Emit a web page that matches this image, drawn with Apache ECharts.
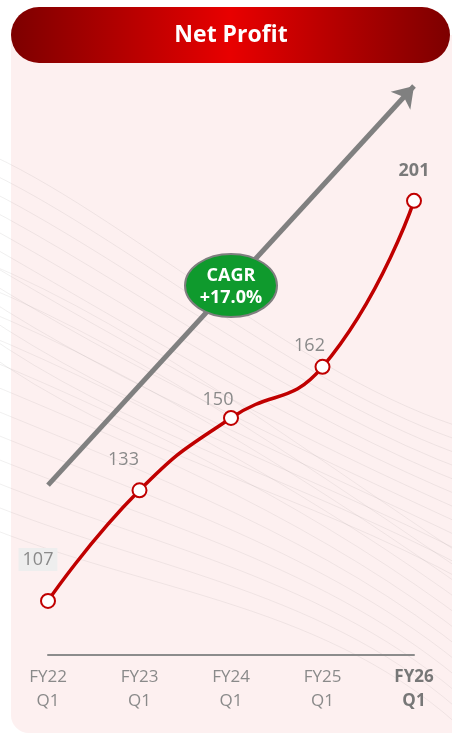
<!DOCTYPE html>
<html>
<head>
<meta charset="utf-8">
<script src="https://cdn.jsdelivr.net/npm/echarts@6/dist/echarts.min.js"></script>
<style>
    html, body { margin: 0; padding: 0; background: #ffffff; }
    #chart { width: 452px; height: 736px; }
</style>
</head>
<body>
<div id="chart"></div>
<script>
var periods = ["FY22\nQ1", "FY23\nQ1", "FY24\nQ1", "FY25\nQ1", "FY26\nQ1"];
var netProfit = [107, 133, 150, 162, 201];
var trendStart = 134.2;   // 趋势箭头起点 (值)
var trendEnd = 228;       // 趋势箭头终点 (值)
var cagrText = "CAGR\n+17.0%";
var titleText = "Net Profit";

var FONT = "'Open Sans', sans-serif";

// 标签偏移
var labelOffsets = [[-10, -17], [-16, -8], [-13, 4], [-13, 1], [0, -8]];

// 背景装饰线
function decoLines() {
    var list = [];
    for (var i = 0; i < 12; i++) {
        var y0 = 150 + i * 18;
        list.push({
            id: 'decoA' + i,
            type: 'bezierCurve',
            silent: true,
            z: 1,
            shape: {
                x1: -20, y1: y0,
                cpx1: 120, cpy1: y0 + 60 + i * 4,
                cpx2: 300, cpy2: 380 + i * 10,
                x2: 470, y2: 430 + i * 14
            },
            style: { stroke: 'rgba(150,140,140,0.14)', lineWidth: 1, fill: 'none' }
        });
    }
    for (var j = 0; j < 12; j++) {
        var y1 = 260 + j * 24;
        list.push({
            id: 'decoB' + j,
            type: 'bezierCurve',
            silent: true,
            z: 1,
            shape: {
                x1: -20, y1: y1,
                cpx1: 150, cpy1: y1 + 70,
                cpx2: 330, cpy2: 470 + j * 12,
                x2: 470, y2: 560 + j * 16
            },
            style: { stroke: 'rgba(150,140,140,0.13)', lineWidth: 1, fill: 'none' }
        });
    }
    return list;
}

var myChart = echarts.init(document.getElementById('chart'));

var seriesData = netProfit.map(function (v, i) {
    var last = i === netProfit.length - 1;
    var item = {
        value: v,
        label: {
            offset: labelOffsets[i],
            fontWeight: last ? 'bold' : 'normal',
            color: last ? '#7a7a7a' : '#8a8a8a'
        }
    };
    if (i === 0) {
        item.label.backgroundColor = '#eeeeee';
        item.label.padding = [3, 4, 2, 4];
    }
    return item;
});

var option = {
    animation: false,
    backgroundColor: '#ffffff',
    grid: { left: 48, right: 38, top: 80, bottom: 81 },
    xAxis: {
        type: 'category',
        data: periods,
        boundaryGap: false,
        axisTick: { show: false },
        axisLine: { lineStyle: { color: '#8c8c8c', width: 2 } },
        axisLabel: {
            margin: 10,
            fontFamily: FONT,
            fontSize: 17,
            lineHeight: 24,
            color: '#8a8a8a',
            formatter: function (val, idx) {
                return idx === periods.length - 1 ? '{b|' + val.replace('\n', '}\n{b|') + '}' : val;
            },
            rich: {
                b: { fontFamily: FONT, fontSize: 17, lineHeight: 24, fontWeight: 'bold', color: '#777777' }
            }
        }
    },
    yAxis: {
        type: 'value',
        min: 94.3,
        max: 229.4,
        show: false,
        splitLine: { show: false }
    },
    series: [{
        type: 'line',
        data: seriesData,
        smooth: 0.5,
        z: 5,
        symbol: 'circle',
        symbolSize: 14,
        lineStyle: { color: '#c00000', width: 3.5 },
        itemStyle: { color: '#ffffff', borderColor: '#c00000', borderWidth: 2 },
        label: {
            show: true,
            position: 'top',
            fontFamily: FONT,
            fontSize: 18
        },
        markLine: {
            silent: true,
            z: 3,
            symbol: ['none', 'arrow'],
            symbolSize: [20, 20],
            label: { show: false },
            lineStyle: { color: '#808080', width: 5, type: 'solid' },
            data: [[{ coord: [0, trendStart] }, { coord: [4, trendEnd] }]]
        }
    }],
    graphic: [{
        id: 'panel',
        type: 'rect',
        silent: true,
        z: -10,
        shape: { x: 11, y: 35, width: 460, height: 698, r: [0, 0, 18, 18] },
        style: { fill: '#fdf0f0' }
    }].concat(decoLines()).concat([{
        id: 'header',
        type: 'rect',
        silent: true,
        z: 10,
        shape: { x: 11, y: 7, width: 439, height: 56, r: 28 },
        style: {
            fill: new echarts.graphic.LinearGradient(0, 0, 1, 0, [
                { offset: 0, color: '#7d0000' },
                { offset: 0.5, color: '#e80000' },
                { offset: 1, color: '#7d0000' }
            ])
        }
    }, {
        id: 'title',
        type: 'text',
        silent: true,
        z: 11,
        x: 231,
        y: 35,
        style: {
            text: titleText,
            fill: '#ffffff',
            font: 'bold 23px ' + FONT,
            align: 'center',
            verticalAlign: 'middle'
        }
    }])
};
myChart.setOption(option);

// CAGR 椭圆
var mid = myChart.convertToPixel({ gridIndex: 0 }, [2, (trendStart + trendEnd) / 2]);
myChart.setOption({
    graphic: [{
        id: 'cagrEllipse',
        type: 'ellipse',
        silent: true,
        z: 20,
        shape: { cx: mid[0], cy: mid[1], rx: 46, ry: 31.5 },
        style: { fill: '#0f9a2d', stroke: '#7f7f7f', lineWidth: 2 }
    }, {
        id: 'cagrText',
        type: 'text',
        silent: true,
        z: 21,
        x: mid[0],
        y: mid[1] + 1,
        style: {
            text: cagrText,
            fill: '#ffffff',
            font: 'bold 18px ' + FONT,
            lineHeight: 22,
            align: 'center',
            verticalAlign: 'middle'
        }
    }]
});
</script>
</body>
</html>
